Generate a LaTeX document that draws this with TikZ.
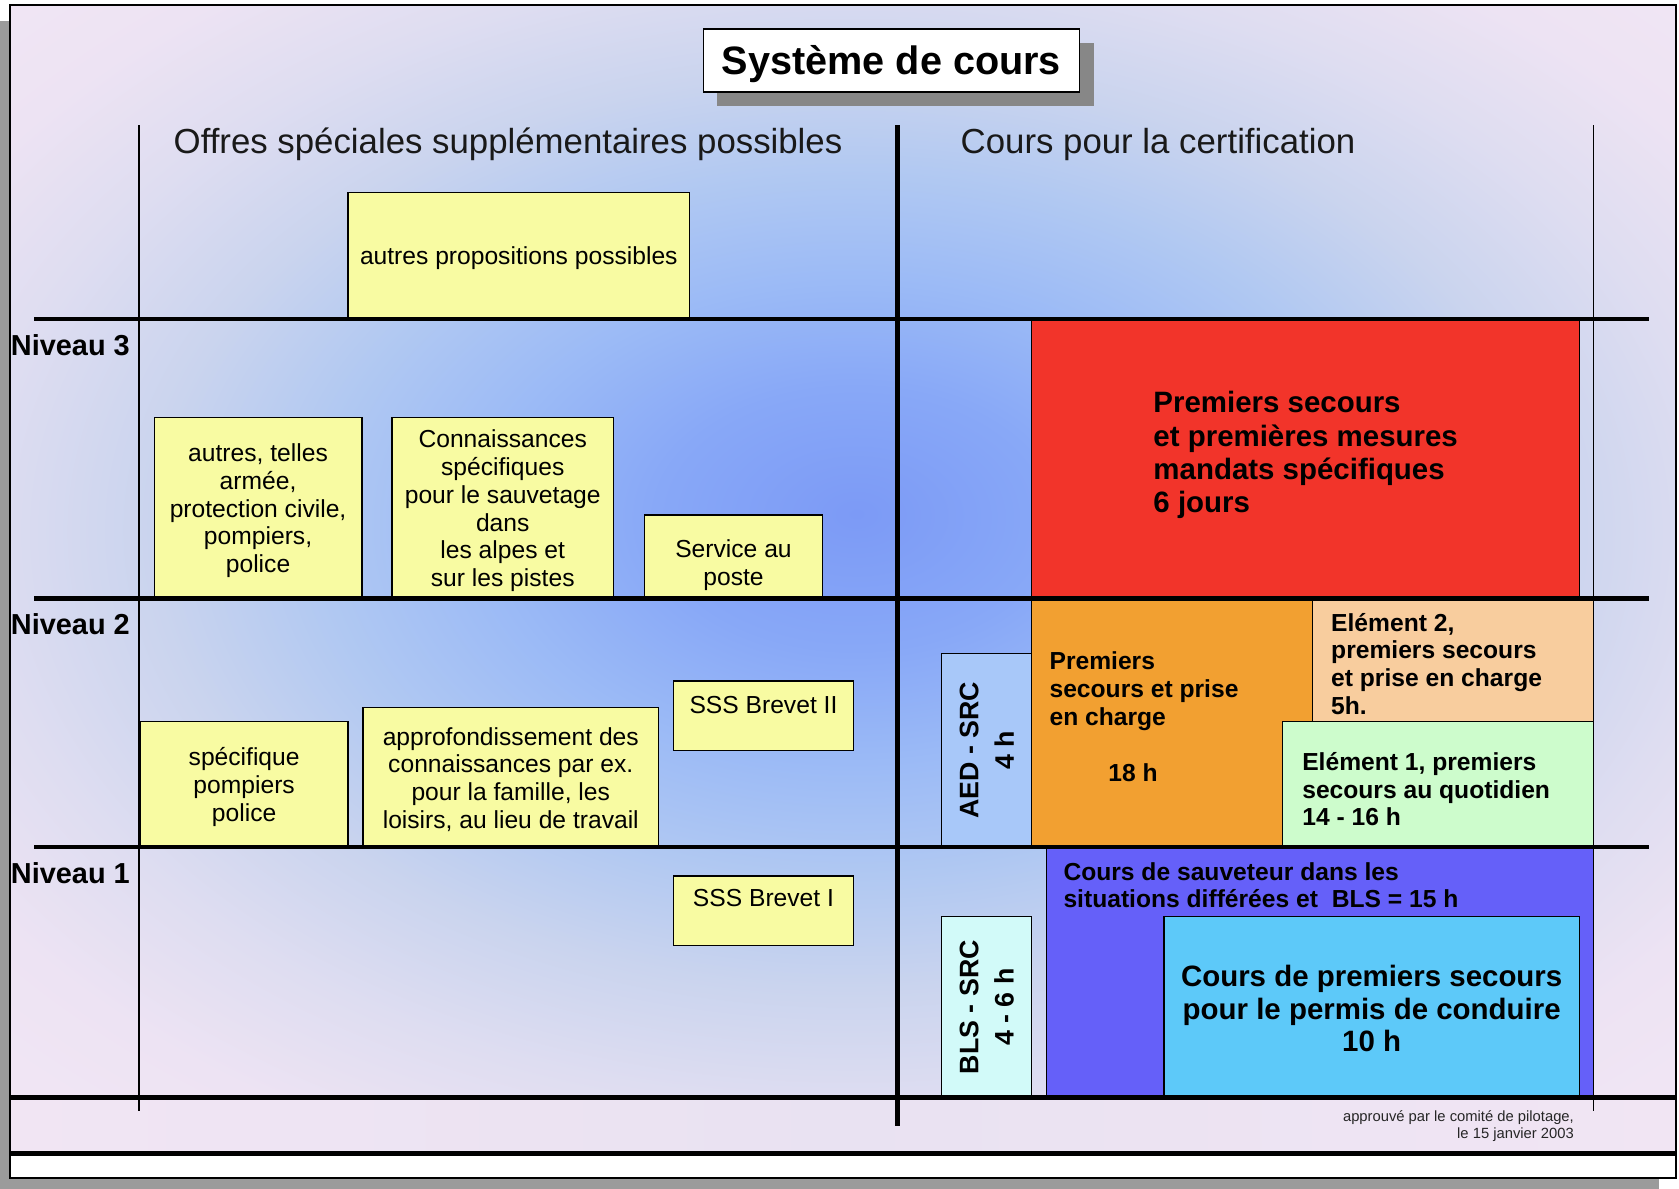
\documentclass[tikz,border=0pt]{standalone}
\usepackage{fontspec}
\setmainfont{Liberation Sans}
\definecolor{g0}{HTML}{7C9AF6}
\definecolor{g1}{HTML}{88A8F7}
\definecolor{g2}{HTML}{9BBAF6}
\definecolor{g3}{HTML}{B0C8F2}
\definecolor{g4}{HTML}{CAD4EE}
\definecolor{g5}{HTML}{DEDDF1}
\definecolor{g6}{HTML}{EDE3F3}
\definecolor{g7}{HTML}{F4E8F5}
\definecolor{ybox}{HTML}{F8FBA2}
\definecolor{redbox}{HTML}{F2342A}
\definecolor{aedbox}{HTML}{A8C8F9}
\definecolor{orangebox}{HTML}{F2A031}
\definecolor{peachbox}{HTML}{F8CD9E}
\definecolor{greenbox}{HTML}{CDFCCC}
\definecolor{purplebox}{HTML}{6560F9}
\definecolor{blsbox}{HTML}{D2FAF9}
\definecolor{cyanbox}{HTML}{5DC9F9}
\definecolor{titleshadow}{HTML}{878787}
\definecolor{frameshadow}{HTML}{9B9B9B}
\definecolor{footpink}{HTML}{F1E5F3}
\definecolor{footlav}{HTML}{E9E2F2}
\pgfdeclareradialshading{bgshade}{\pgfpoint{0.42bp}{1.72bp}}{color(0bp)=(g0); color(6bp)=(g1); color(11bp)=(g2); color(16bp)=(g3); color(21bp)=(g4); color(26bp)=(g5); color(31bp)=(g6); color(40bp)=(g7); color(50bp)=(g7)}
\begin{document}
\begin{tikzpicture}[x=1pt,y=-1pt,
  ybox/.style={draw=black, line width=1.2pt, fill=ybox, inner sep=0pt},
  cbox/.style={draw=black, line width=1.2pt, inner sep=0pt},
  ytext/.style={inner sep=0pt, align=center, font={\fontsize{23}{26}\selectfont}},
  btext/.style={inner sep=0pt, align=left, font={\bfseries\fontsize{23}{26}\selectfont}},
  bigbtext/.style={inner sep=0pt, align=left, font={\bfseries\fontsize{27.5}{31}\selectfont}},
  rottext/.style={rotate=90, inner sep=0pt, align=center, font={\bfseries\fontsize{25}{33}\selectfont}},
  levellabel/.style={anchor=west, inner sep=0pt, font={\bfseries\fontsize{27}{32}\selectfont}},
  header/.style={anchor=base west, inner sep=0pt, text=black!90, font={\fontsize{32.5}{38}\selectfont}},
  sepline/.style={line width=4pt},
  thinline/.style={line width=1.5pt},
  bigline/.style={line width=5pt}]
\useasboundingbox (0,0) rectangle (1568,1110);
% frame shadow and frame
\fill[frameshadow] (0,20) rectangle (1549,1110);
\fill[white] (9,5) rectangle (1565,1100);
\shade[shading=bgshade] (9,5) rectangle (1565,1025);
\shade[left color=footpink, right color=footpink, middle color=footlav] (9,1025) rectangle (1565,1077);
% title
\fill[titleshadow] (670,40) rectangle (1022,99);
\node[draw=black, line width=1.5pt, fill=white, inner sep=0pt, minimum width=351, minimum height=59] (title) at (832.5,56.5) {};
\node[inner sep=0pt, font={\bfseries\fontsize{37}{44}\selectfont}] (titlet) at (832.5,59.5) {Système de cours};
% headers
\node[header] (hleft) at (162,143) {Offres spéciales supplémentaires possibles};
\node[header] (hright) at (897,143) {Cours pour la certification};
% yellow boxes
\node[ybox, minimum width=319, minimum height=118] (yA) at (484.5,239) {};
\node[ytext] (yAt) at (484.5,241.5) {autres propositions possibles};
\node[ybox, minimum width=194, minimum height=169] (yB) at (241,474.5) {};
\node[ytext] (yBt) at (241,477) {autres, telles\\armée,\\protection civile,\\pompiers,\\police};
\node[ybox, minimum width=207, minimum height=169] (yC) at (469.5,474.5) {};
\node[ytext] (yCt) at (469.5,477) {Connaissances\\spécifiques\\pour le sauvetage\\dans\\les alpes et\\sur les pistes};
\node[ybox, minimum width=166, minimum height=78] (yD) at (685,520) {};
\node[ytext] (yDt) at (685,528) {Service au\\poste};
\node[ybox, minimum width=194, minimum height=117] (yE) at (228,732.5) {};
\node[ytext] (yEt) at (228,735) {spécifique\\pompiers\\police};
\node[ybox, minimum width=276, minimum height=130] (yF) at (477,726) {};
\node[ytext] (yFt) at (477,728) {approfondissement des\\connaissances par ex.\\pour la famille, les\\loisirs, au lieu de travail};
\node[ybox, minimum width=168, minimum height=65] (yG) at (713,668.5) {};
\node[ytext] (yGt) at (713,658.5) {SSS Brevet II};
\node[ybox, minimum width=168, minimum height=65] (yH) at (713,850.5) {};
\node[ytext] (yHt) at (713,839) {SSS Brevet I};
% certification boxes
\node[cbox, fill=redbox, minimum width=512, minimum height=261] (red) at (1219,428.5) {};
\node[bigbtext, anchor=west] (redt) at (1077,425) {Premiers secours\\et premières mesures\\mandats spécifiques\\6 jours};
\node[cbox, fill=aedbox, minimum width=84, minimum height=181] (aed) at (921,700.5) {};
\node[rottext] (aedt) at (921.5,700.5) {AED - SRC\\4 h};
\node[cbox, fill=orangebox, minimum width=263, minimum height=232] (orange) at (1094.5,675) {};
\node[btext, anchor=west] (oranget) at (980,645.5) {Premiers\\secours et prise\\en charge};
\node[btext, anchor=west] (orangeh) at (1035,722) {18 h};
\node[cbox, fill=peachbox, minimum width=262, minimum height=115] (peach) at (1357,616.5) {};
\node[btext, anchor=west] (peacht) at (1243,620) {Elément 2,\\premiers secours\\et prise en charge\\5h.};
\node[cbox, fill=greenbox, minimum width=290, minimum height=117] (green) at (1343,732.5) {};
\node[btext, anchor=west] (greent) at (1216,737) {Elément 1, premiers\\secours au quotidien\\14 - 16 h};
\node[cbox, fill=purplebox, minimum width=511, minimum height=234] (purple) at (1232.5,908) {};
\node[btext, anchor=west, font={\bfseries\fontsize{23}{25}\selectfont}] (purplet) at (993,826.5) {Cours de sauveteur dans les\\situations différées et\ \ BLS = 15 h};
\node[cbox, fill=blsbox, minimum width=84, minimum height=169] (bls) at (921,940.5) {};
\node[rottext] (blst) at (921.5,940.5) {BLS - SRC\\4 - 6 h};
\node[cbox, fill=cyanbox, minimum width=388, minimum height=169] (cyan) at (1281,940.5) {};
\node[inner sep=0pt, align=center, font={\bfseries\fontsize{27.5}{30.5}\selectfont}] (cyant) at (1281,942) {Cours de premiers secours\\pour le permis de conduire\\10 h};
% structure lines
\draw[thinline] (130,117) -- (130,1038);
\draw[thinline] (1488,117) -- (1488,1038);
\draw[sepline] (32,298) -- (1540,298);
\draw[sepline] (32,559) -- (1540,559);
\draw[sepline] (32,791) -- (1540,791);
\draw[bigline] (9,1025) -- (1565,1025);
\draw[bigline] (9,1077) -- (1565,1077);
\draw[bigline] (838,117) -- (838,1052);
\draw[line width=2pt] (9,5) rectangle (1565,1100);
% level labels
\node[levellabel] (n3) at (10,322) {Niveau 3};
\node[levellabel] (n2) at (10,583) {Niveau 2};
\node[levellabel] (n1) at (10,815) {Niveau 1};
% footer
\node[anchor=east, align=right, inner sep=0pt, text=black!85, font={\fontsize{13.8}{16}\selectfont}] (foot) at (1470,1052) {approuvé par le comité de pilotage,\\le 15 janvier 2003};
\end{tikzpicture}
\end{document}
